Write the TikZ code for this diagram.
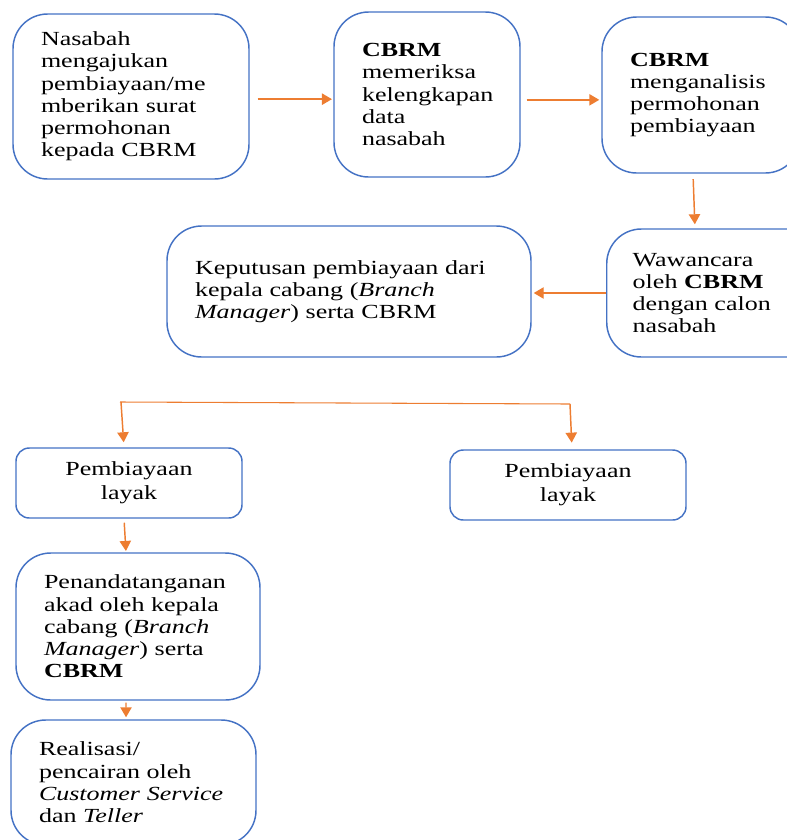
\documentclass[tikz,border=0pt]{standalone}
\usepackage{fontspec}
\usetikzlibrary{arrows.meta,calc}
\newfontfamily\boxfont{Liberation Serif}[FakeStretch=1.3]
\definecolor{boxblue}{HTML}{4472C4}
\definecolor{arrorange}{HTML}{ED7D31}
\tikzset{
  bx/.style={draw=boxblue, line width=1.1pt, rounded corners=26pt, inner xsep=21pt, inner ysep=0pt, align=left, font=\boxfont\fontsize{15}{16.7}\selectfont},
  sbx/.style={draw=boxblue, line width=1.1pt, rounded corners=10pt, inner sep=0pt, align=center, font=\boxfont\fontsize{15}{18}\selectfont},
  arr/.style={draw=arrorange, line width=1.1pt, -{Triangle[length=7.5pt,width=8.5pt]}},
  ln/.style={draw=arrorange, line width=0.8pt},
}
\begin{document}
\begin{tikzpicture}[x=0.75pt,y=-0.75pt]
\useasboundingbox (0,0) rectangle (787,840);
\node[bx, text width=135pt, minimum height=123.75pt] (b1) at (131,96.5)
  {Nasabah\\mengajukan\\pembiayaan/me\\mberikan surat\\permohonan\\kepada CBRM};
\node[bx, text width=97.5pt, minimum height=123.75pt] (b2) at (427,94.5)
  {\textbf{CBRM}\\memeriksa\\kelengkapan\\data\\nasabah};
\node[bx, text width=106.5pt, minimum height=117pt] (b3) at (701,95)
  {\textbf{CBRM}\\menganalisis\\permohonan\\pembiayaan};
\node[bx, anchor=west, inner xsep=19.5pt, text width=130pt, minimum height=96pt] (b4) at (606,293)
  {Wawancara\\oleh \textbf{CBRM}\\dengan calon\\nasabah};
\node[bx, text width=231pt, minimum height=98.25pt] (b5) at (349,291.5)
  {Keputusan pembiayaan dari\\kepala cabang (\textit{Branch}\\\textit{Manager}) serta CBRM};
\node[sbx, minimum width=169.5pt, minimum height=52.5pt] (b6) at (129,483)
  {Pembiayaan\\layak};
\node[sbx, minimum width=177pt, minimum height=52.5pt] (b7) at (568,485)
  {Pembiayaan\\layak};
\node[bx, text width=141pt, minimum height=110.25pt] (b8) at (138,626.5)
  {Penandatanganan\\akad oleh kepala\\cabang (\textit{Branch}\\\textit{Manager}) serta\\\textbf{CBRM}};
\node[bx, text width=141.75pt, minimum height=93.75pt] (b9) at (133.5,782.5)
  {Realisasi/\\pencairan oleh\\\textit{Customer Service}\\dan \textit{Teller}};
% connectors
\draw[arr, shorten <=6pt, shorten >=1pt] ([yshift=-2pt]b1.east) -- ([yshift=-2pt]b1.east -| b2.west);
\draw[arr, shorten <=4.5pt, shorten >=1.5pt] ([yshift=-4pt]b2.east) -- ([yshift=-4pt]b2.east -| b3.west);
\draw[arr, shorten <=4pt, shorten >=3pt] ([xshift=-6pt]b3.south) -- ($(b3.south |- b4.north)+(-4.5pt,0)$);
\draw[arr, shorten >=1.5pt] (b4.west) -- (b4.west -| b5.east);
\coordinate (brL) at (120,402);
\coordinate (brR) at (570,404);
\draw[ln] (brL) -- (brR);
\draw[arr, shorten >=5pt] (brR) -- ([xshift=3pt]b7.north);
\draw[arr, shorten >=3.75pt] ($(brL)+(1,0)$) -- ([xshift=-3.75pt]b6.north);
\draw[arr, shorten <=3pt, shorten >=1pt] ([xshift=-3.75pt]b6.south) -- ([xshift=-9pt]b8.north);
\draw[arr, shorten <=1.5pt, shorten >=1.5pt] ([xshift=-9pt]b8.south) -- ([xshift=-5.6pt]b9.north);
\end{tikzpicture}
\end{document}
